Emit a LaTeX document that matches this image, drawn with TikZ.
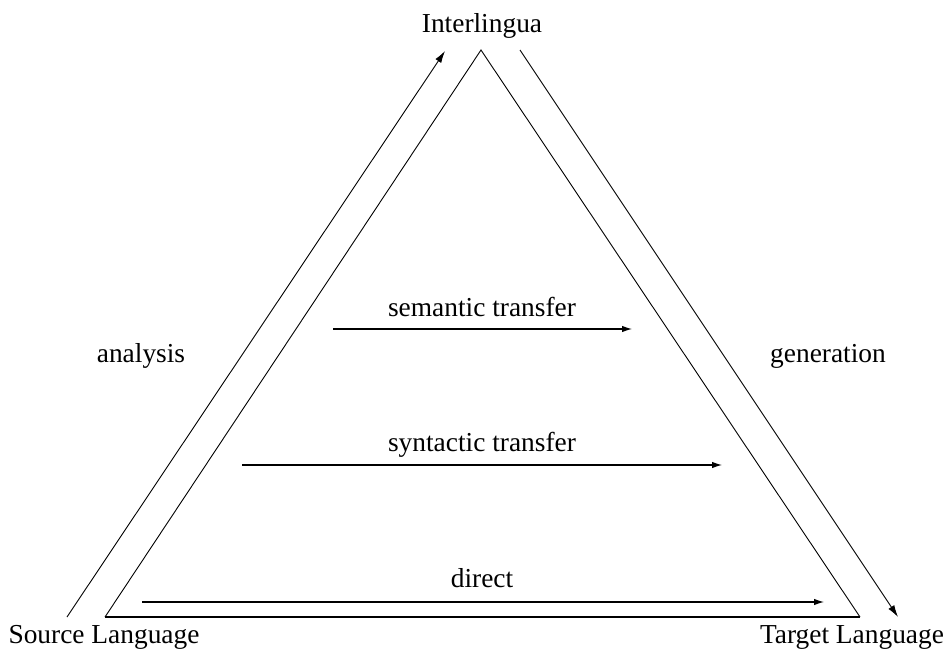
\documentclass[tikz,border=0pt]{standalone}
\usepackage{fontspec}
\setmainfont{Liberation Serif}
\usetikzlibrary{arrows.meta}
\begin{document}
\begin{tikzpicture}[x=1pt,y=-1pt,
  arr/.style={line width=1.1pt,-{Latex[length=10pt,width=6.5pt]}},
  thinarr/.style={line width=0.9pt,-{Latex[length=12pt,width=7pt]}},
  lbl/.style={font=\fontsize{27.4}{32}\selectfont,anchor=base,inner sep=0pt}]
\useasboundingbox (0,0) rectangle (951,650);
% triangle
\coordinate (apex) at (481,50);
\coordinate (bl) at (105,617);
\coordinate (br) at (860,617);
\draw[line width=0.9pt] (bl) -- (apex) -- (br);
\draw[line width=1.4pt] (bl) -- (br);
% outer arrows
\coordinate (a0) at (67,617);
\coordinate (a1) at (445,51);
\coordinate (g0) at (520,50);
\coordinate (g1) at (898,617);
\draw[thinarr] (a0) -- (a1);
\draw[thinarr] (g0) -- (g1);
% transfer arrows
\coordinate (s0) at (333,329);
\coordinate (s1) at (632,329);
\coordinate (y0) at (242,465);
\coordinate (y1) at (722,465);
\coordinate (d0) at (142,602);
\coordinate (d1) at (824,602);
\draw[arr] (s0) -- (s1);
\draw[arr] (y0) -- (y1);
\draw[arr] (d0) -- (d1);
% labels
\node[lbl] (il) at (482,33) {Interlingua};
\node[lbl] (sl) at (104,643) {Source Language};
\node[lbl] (tl) at (852,643) {Target Language};
\node[lbl] (sem) at (482,316) {semantic transfer};
\node[lbl] (syn) at (482,451) {syntactic transfer};
\node[lbl] (dir) at (482,587) {direct};
\node[lbl] (ana) at (141,362) {analysis};
\node[lbl] (gen) at (828,362) {generation};
\end{tikzpicture}
\end{document}
